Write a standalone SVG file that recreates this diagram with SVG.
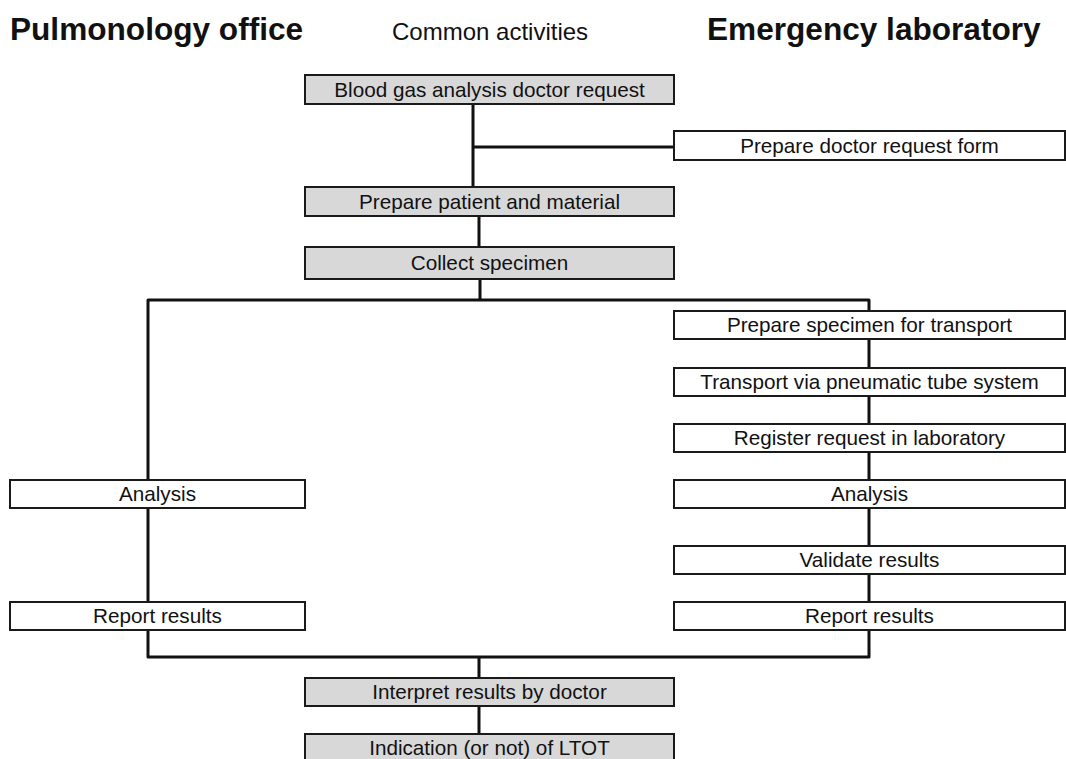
<svg xmlns="http://www.w3.org/2000/svg" width="1066" height="759" viewBox="0 0 1066 759">
<style>
.t{font-family:"Liberation Sans",Arial,sans-serif;font-size:20.7px;fill:#111;text-anchor:middle}
.h{font-family:"Liberation Sans",Arial,sans-serif;font-size:31.6px;font-weight:bold;fill:#111}
.c{font-family:"Liberation Sans",Arial,sans-serif;font-size:24px;fill:#111}
.g{fill:#d8d8d8;stroke:#1a1a1a;stroke-width:2}
.w{fill:#fff;stroke:#1a1a1a;stroke-width:2}
.ln{fill:none;stroke:#111;stroke-width:3;stroke-linejoin:round}
</style>
<rect width="1066" height="759" fill="#fff"/>
<g id="headers">
<text class="h" x="10" y="40">Pulmonology office</text>
<text class="c" x="392" y="40">Common activities</text>
<text class="h" x="707" y="40">Emergency laboratory</text>
</g>
<g id="connectors">
<path class="ln" d="M473,104 V187 M473,147 H674"/>
<path class="ln" d="M479,216 V247"/>
<path class="ln" d="M480,279 V300 M148,480 V300 H869 V311"/>
<path class="ln" d="M869,339 V368 M869,396 V424 M869,452 V480 M869,508 V546 M869,574 V602"/>
<path class="ln" d="M148,508 V602"/>
<path class="ln" d="M148,630 V657 H869 V630 M479,657 V678"/>
<path class="ln" d="M479,706 V734"/>
</g>
<g id="n1"><rect class="g" x="305" y="75" width="369" height="29"/><text class="t" x="489.5" y="97">Blood gas analysis doctor request</text></g>
<g id="n2"><rect class="w" x="674" y="131" width="391" height="29"/><text class="t" x="869.5" y="153">Prepare doctor request form</text></g>
<g id="n3"><rect class="g" x="305" y="187" width="369" height="29"/><text class="t" x="489.5" y="209">Prepare patient and material</text></g>
<g id="n4"><rect class="g" x="305" y="247" width="369" height="32"/><text class="t" x="489.5" y="270">Collect specimen</text></g>
<g id="n5"><rect class="w" x="674" y="311" width="391" height="28"/><text class="t" x="869.5" y="332">Prepare specimen for transport</text></g>
<g id="n6"><rect class="w" x="674" y="368" width="391" height="28"/><text class="t" x="869.5" y="389">Transport via pneumatic tube system</text></g>
<g id="n7"><rect class="w" x="674" y="424" width="391" height="28"/><text class="t" x="869.5" y="445">Register request in laboratory</text></g>
<g id="n8"><rect class="w" x="674" y="480" width="391" height="28"/><text class="t" x="869.5" y="501">Analysis</text></g>
<g id="n9"><rect class="w" x="674" y="546" width="391" height="28"/><text class="t" x="869.5" y="567">Validate results</text></g>
<g id="n10"><rect class="w" x="674" y="602" width="391" height="28"/><text class="t" x="869.5" y="623">Report results</text></g>
<g id="n11"><rect class="w" x="10" y="480" width="295" height="28"/><text class="t" x="157.5" y="501">Analysis</text></g>
<g id="n12"><rect class="w" x="10" y="602" width="295" height="28"/><text class="t" x="157.5" y="623">Report results</text></g>
<g id="n13"><rect class="g" x="305" y="678" width="369" height="28"/><text class="t" x="489.5" y="699">Interpret results by doctor</text></g>
<g id="n14"><rect class="g" x="305" y="734" width="369" height="30"/><text class="t" x="489.5" y="755">Indication (or not) of LTOT</text></g>
</svg>
